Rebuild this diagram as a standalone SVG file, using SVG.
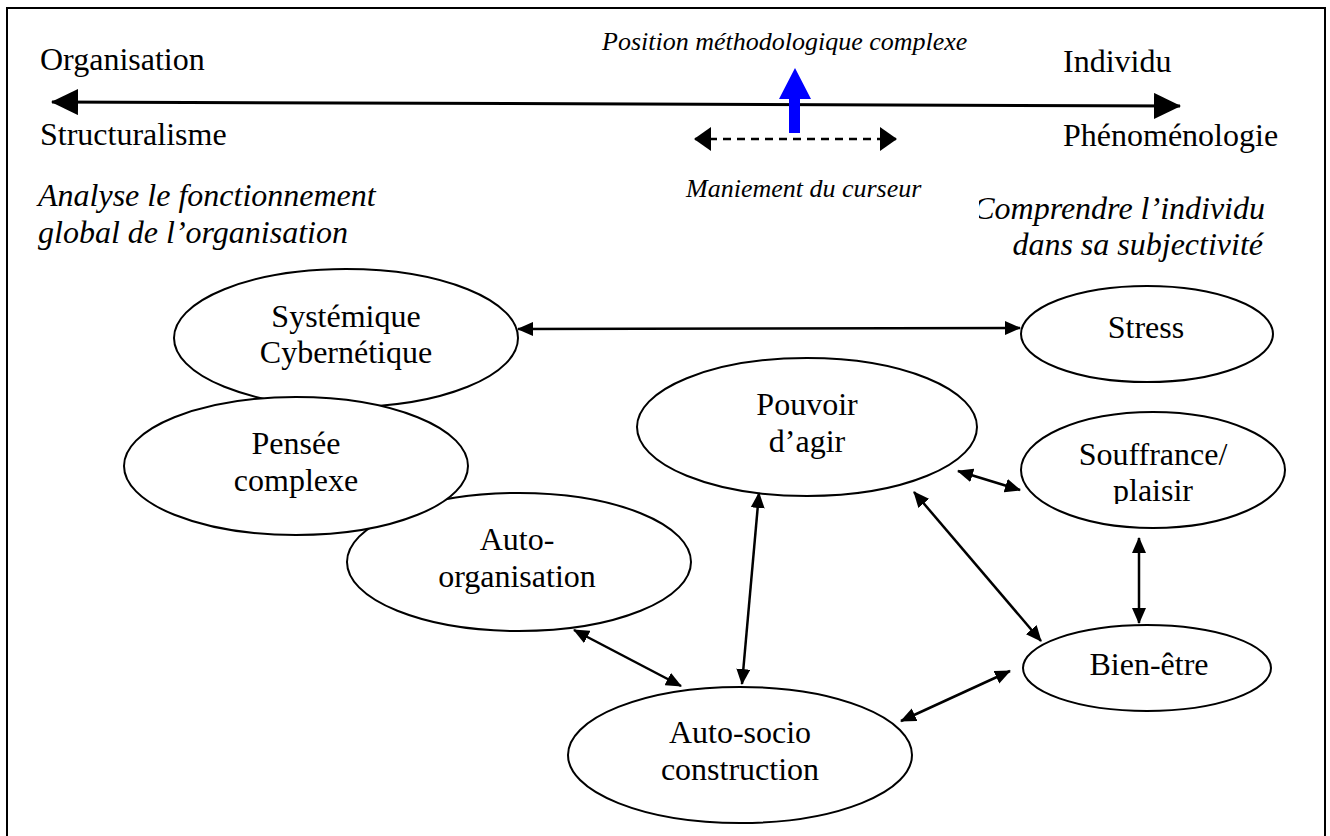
<svg xmlns="http://www.w3.org/2000/svg" width="1330" height="836" viewBox="0 0 1330 836">
<style>
.t{font-family:"Liberation Serif","Times New Roman",serif;font-size:32px;fill:#000}
.i{font-family:"Liberation Serif","Times New Roman",serif;font-style:italic;fill:#000}
.n{fill:#fff;stroke:#000;stroke-width:2}
.c{fill:none;stroke:#000;stroke-width:2.5;marker-start:url(#ah);marker-end:url(#ah)}
.m{text-anchor:middle}
</style>
<defs>
<marker id="ah" markerUnits="userSpaceOnUse" markerWidth="16" markerHeight="14" refX="15" refY="7" orient="auto-start-reverse"><path d="M0,0 L16,7 L0,14 z" fill="#000"/></marker>
<marker id="ahBig" markerUnits="userSpaceOnUse" markerWidth="27" markerHeight="26" refX="26" refY="13" orient="auto-start-reverse"><path d="M0,0 L27,13 L0,26 z" fill="#000"/></marker>
<marker id="ahMid" markerUnits="userSpaceOnUse" markerWidth="17" markerHeight="24" refX="16" refY="12" orient="auto-start-reverse"><path d="M0,0 L17,12 L0,24 z" fill="#000"/></marker>
<clipPath id="clipPlaisir"><rect x="1000" y="430" width="300" height="74"/></clipPath>
<clipPath id="clipComp"><rect x="979" y="150" width="340" height="120"/></clipPath>
</defs>
<rect x="0" y="0" width="1330" height="836" fill="#fff"/>
<rect x="7" y="8" width="1318" height="850" fill="none" stroke="#000" stroke-width="2"/>

<g id="axis">
<line x1="52" y1="102" x2="1180" y2="106" stroke="#000" stroke-width="3" marker-start="url(#ahBig)" marker-end="url(#ahBig)"/>
<text class="t" x="40" y="70">Organisation</text>
<text class="t" x="40" y="145">Structuralisme</text>
<text class="t" x="1063" y="72">Individu</text>
<text class="t" x="1063" y="146">Phénoménologie</text>
<text class="i" x="602" y="50" font-size="26">Position méthodologique complexe</text>
<line x1="695" y1="139" x2="896" y2="139" stroke="#000" stroke-width="2.5" stroke-dasharray="8 6" marker-start="url(#ahMid)" marker-end="url(#ahMid)"/>
<polygon points="789,133 800,133 800,99 811,99 795,68 779,99 789,99" fill="#0000ff"/>
<text class="i" x="686" y="197" font-size="26">Maniement du curseur</text>
<text class="i" x="38" y="206" font-size="32">Analyse le fonctionnement</text>
<text class="i" x="38" y="243" font-size="32">global de l’organisation</text>
<g clip-path="url(#clipComp)"><text class="i" x="1265" y="219" font-size="32" text-anchor="end">Comprendre l’individu</text></g>
<text class="i" x="1263" y="255" font-size="32" text-anchor="end">dans sa subjectivité</text>
</g>

<g id="node-systemique">
<ellipse class="n" cx="346" cy="338" rx="172" ry="69"/>
<text class="t m" x="346" y="327">Systémique</text>
<text class="t m" x="346" y="363">Cybernétique</text>
</g>
<g id="node-autoorganisation">
<ellipse class="n" cx="519" cy="562" rx="172" ry="69"/>
<text class="t m" x="517" y="550">Auto-</text>
<text class="t m" x="517" y="587">organisation</text>
</g>
<g id="node-pensee">
<ellipse class="n" cx="296" cy="466" rx="172" ry="69"/>
<text class="t m" x="296" y="454">Pensée</text>
<text class="t m" x="296" y="491">complexe</text>
</g>
<g id="node-pouvoir">
<ellipse class="n" cx="807" cy="427" rx="170" ry="69"/>
<text class="t m" x="807" y="415">Pouvoir</text>
<text class="t m" x="807" y="452">d’agir</text>
</g>
<g id="node-stress">
<ellipse class="n" cx="1147" cy="334" rx="126" ry="48"/>
<text class="t m" x="1146" y="338">Stress</text>
</g>
<g id="node-souffrance">
<ellipse class="n" cx="1153" cy="470" rx="132" ry="58"/>
<text class="t m" x="1153" y="465">Souffrance/</text>
<g clip-path="url(#clipPlaisir)"><text class="t m" x="1153" y="501">plaisir</text></g>
</g>
<g id="node-bienetre">
<ellipse class="n" cx="1147" cy="668" rx="124" ry="43"/>
<text class="t m" x="1149" y="675">Bien-être</text>
</g>
<g id="node-autosocio">
<ellipse class="n" cx="740" cy="755" rx="172" ry="68"/>
<text class="t m" x="740" y="743">Auto-socio</text>
<text class="t m" x="740" y="780">construction</text>
</g>

<g id="connectors">
<line class="c" x1="518" y1="329" x2="1020" y2="328"/>
<line class="c" x1="958" y1="471" x2="1020" y2="490"/>
<line class="c" x1="759" y1="493" x2="742" y2="684"/>
<line class="c" x1="914" y1="492" x2="1041" y2="641"/>
<line class="c" x1="1139" y1="538" x2="1139" y2="623"/>
<line class="c" x1="574" y1="630" x2="681" y2="686"/>
<line class="c" x1="901" y1="721" x2="1010" y2="671"/>
</g>
</svg>
